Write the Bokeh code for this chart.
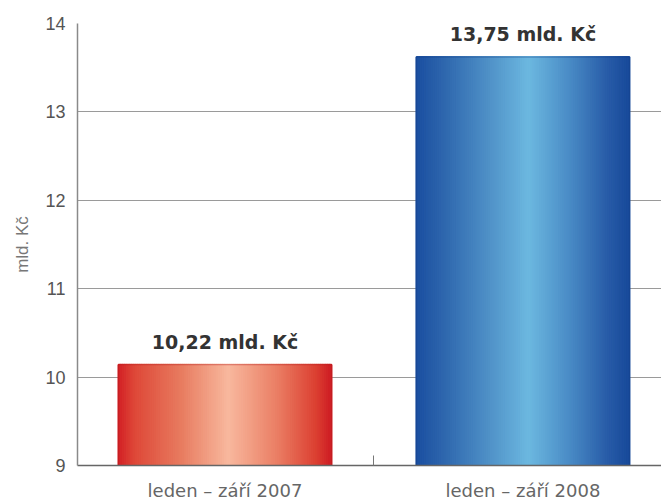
from bokeh.plotting import figure
from bokeh.models import Range1d, FixedTicker
from bokeh.core.properties import value
from bokeh.embed import file_html
from bokeh.resources import INLINE

# ---- data ----
categories = ["leden – září 2007", "leden – září 2008"]
bar_values = [10.14, 13.62]          # bar heights as drawn
label_values = [10.22, 13.75]        # values printed above the bars
unit = "mld. Kč"
y_ticks = [9, 10, 11, 12, 13, 14]
y_min, y_max = 9, 14

# ---- style ----
FONT = "Liberation Sans"
WFONT = "DejaVu Sans"
red_stops = [(0.0, (210, 30, 36)), (0.08, (222, 72, 56)), (0.3, (232, 124, 96)),
             (0.52, (248, 184, 158)), (0.75, (234, 126, 100)), (0.93, (220, 64, 50)), (1.0, (206, 30, 36))]
blue_stops = [(0.0, (26, 78, 160)), (0.12, (44, 100, 172)), (0.35, (80, 146, 200)),
              (0.53, (108, 184, 224)), (0.72, (74, 140, 198)), (0.9, (40, 92, 168)), (1.0, (24, 74, 154))]
stops_list = [red_stops, blue_stops]
edge_colors = ["#b81c1e", "#163f86"]


def interp(stops, t):
    for (t0, c0), (t1, c1) in zip(stops[:-1], stops[1:]):
        if t0 <= t <= t1:
            f = (t - t0) / (t1 - t0) if t1 > t0 else 0
            return "#%02x%02x%02x" % tuple(int(round(a + (b - a) * f)) for a, b in zip(c0, c1))
    return "#%02x%02x%02x" % stops[-1][1]


xs = list(range(len(categories)))
bar_w = 0.715
N = 100

p = figure(width=661, height=503, output_backend="svg", toolbar_location=None,
           x_range=Range1d(-0.495, 1.465), y_range=Range1d(y_min, y_max),
           min_border_left=77, min_border_top=23, min_border_right=0, min_border_bottom=36)
p.outline_line_color = None
p.background_fill_color = "white"
p.border_fill_color = "white"

# gradient bars built as thin vertical strips
left, right, top, bottom, colors = [], [], [], [], []
for i, (x, v) in enumerate(zip(xs, bar_values)):
    x0 = x - bar_w / 2
    for j in range(N):
        left.append(x0 + j * bar_w / N)
        right.append(x0 + (j + 1) * bar_w / N)
        top.append(v)
        bottom.append(y_min)
        colors.append(interp(stops_list[i], (j + 0.5) / N))
p.quad(left=left, right=right, top=top, bottom=bottom, fill_color=colors,
       line_color=colors, line_width=2)
p.quad(left=[x - bar_w / 2 for x in xs], right=[x + bar_w / 2 for x in xs],
       top=bar_values, bottom=[y_min] * len(xs), fill_color=None,
       line_color=edge_colors, line_width=0.8, line_alpha=0.6)

# value labels
labels = [("%.2f" % v).replace(".", ",") + " " + unit for v in label_values]
p.text(x=xs, y=bar_values, text=labels, text_align="center", text_baseline="bottom",
       y_offset=-12, text_font=value(WFONT), text_font_style="bold",
       text_font_size="19px", text_color="#333333")

# axes
p.yaxis.ticker = FixedTicker(ticks=y_ticks, minor_ticks=[])
p.yaxis.axis_label = unit
p.yaxis.axis_label_text_font = FONT
p.yaxis.axis_label_text_font_style = "normal"
p.yaxis.axis_label_text_font_size = "17px"
p.yaxis.axis_label_text_color = "#777777"
p.yaxis.axis_label_standoff = 10
p.yaxis.major_label_text_font = FONT
p.yaxis.major_label_text_font_size = "18px"
p.yaxis.major_label_text_color = "#555555"
p.yaxis.major_label_standoff = 12
p.yaxis.major_tick_out = 0
p.yaxis.major_tick_in = 0
p.yaxis.axis_line_color = "#8a8a8a"
p.yaxis.axis_line_width = 1.5

p.xaxis.ticker = FixedTicker(ticks=xs, minor_ticks=[0.5])
p.xaxis.major_label_overrides = {x: c for x, c in zip(xs, categories)}
p.xaxis.major_label_text_font = WFONT
p.xaxis.major_label_text_font_size = "18px"
p.xaxis.major_label_text_color = "#666666"
p.xaxis.major_label_standoff = 14
p.xaxis.major_tick_out = 0
p.xaxis.major_tick_in = 0
p.xaxis.minor_tick_in = 10
p.xaxis.minor_tick_out = 0
p.xaxis.minor_tick_line_color = "#777777"
p.xaxis.axis_line_color = "#666666"
p.xaxis.axis_line_width = 1.5

p.xgrid.grid_line_color = None
p.ygrid.ticker = FixedTicker(ticks=y_ticks)
p.ygrid.grid_line_color = "#9a9a9a"
p.ygrid.grid_line_width = 1

open("out.html", "w").write(file_html(p, INLINE))
